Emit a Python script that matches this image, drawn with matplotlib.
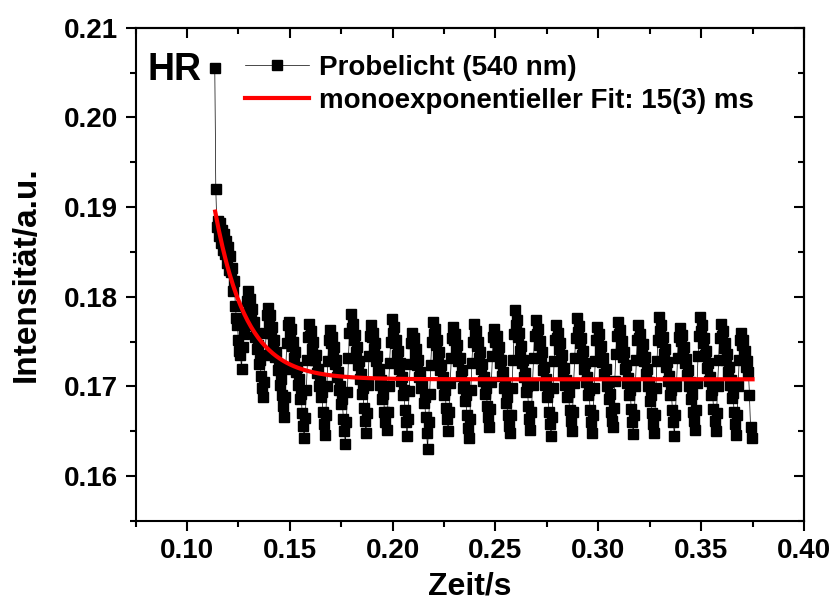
import matplotlib
matplotlib.use("Agg")
import matplotlib.pyplot as plt
from matplotlib.ticker import MultipleLocator, FormatStrFormatter
import numpy as np

plt.rcParams['font.family'] = ['Liberation Sans', 'DejaVu Sans']
plt.rcParams['font.weight'] = 'bold'
plt.rcParams['axes.labelweight'] = 'bold'

# probe light transient, sampled every 0.5 ms from t = 0.1135 s
time_start = 0.1135
time_step = 0.0005
intensity = [
    # initial drop
    0.2055, 0.1920, 0.1878, 0.1885, 0.1868, 0.1882, 0.1860, 0.1875, 0.1852, 0.1870,
    0.1848, 0.1862, 0.1838, 0.1855, 0.1830, 0.1845, 0.1828, 0.1832, 0.1806, 0.1818,
    0.1790, 0.1776, 0.1768, 0.1752, 0.1740, 0.1735, 0.1720, 0.1744, 0.1758, 0.1770,
    0.1782, 0.1795,
    # oscillating plateau
    0.1807, 0.1792, 0.1798, 0.1780, 0.1786, 0.1768, 0.1772, 0.1755, 0.1760, 0.1742,
    0.1746, 0.1725, 0.1730, 0.1712, 0.1698, 0.1688, 0.1705, 0.1735, 0.1760, 0.1780,
    0.1788, 0.1772, 0.1780, 0.1760, 0.1766, 0.1748, 0.1752, 0.1733, 0.1738, 0.1718,
    0.1722, 0.1702, 0.1708, 0.1690, 0.1678, 0.1666, 0.1688, 0.1720, 0.1748, 0.1768,
    0.1772, 0.1758, 0.1764, 0.1745, 0.1750, 0.1732, 0.1738, 0.1716, 0.1722, 0.1702,
    0.1708, 0.1686, 0.1692, 0.1670, 0.1656, 0.1642, 0.1665, 0.1696, 0.1730, 0.1755,
    0.1770, 0.1756, 0.1762, 0.1742, 0.1750, 0.1730, 0.1735, 0.1715, 0.1720, 0.1700,
    0.1706, 0.1688, 0.1694, 0.1672, 0.1658, 0.1646, 0.1668, 0.1700, 0.1728, 0.1752,
    0.1763, 0.1748, 0.1755, 0.1738, 0.1744, 0.1725, 0.1730, 0.1710, 0.1716, 0.1696,
    0.1700, 0.1680, 0.1686, 0.1664, 0.1650, 0.1636, 0.1660, 0.1694, 0.1732, 0.1760,
    0.1781, 0.1765, 0.1770, 0.1752, 0.1757, 0.1738, 0.1744, 0.1724, 0.1728, 0.1708,
    0.1714, 0.1692, 0.1698, 0.1676, 0.1662, 0.1648, 0.1670, 0.1702, 0.1734, 0.1756,
    0.1768, 0.1755, 0.1760, 0.1742, 0.1748, 0.1728, 0.1734, 0.1716, 0.1720, 0.1702,
    0.1707, 0.1686, 0.1692, 0.1672, 0.1660, 0.1652, 0.1672, 0.1700, 0.1726, 0.1750,
    0.1775, 0.1760, 0.1766, 0.1748, 0.1752, 0.1735, 0.1740, 0.1720, 0.1726, 0.1706,
    0.1710, 0.1690, 0.1696, 0.1674, 0.1660, 0.1645, 0.1664, 0.1695, 0.1725, 0.1748,
    0.1760, 0.1748, 0.1754, 0.1736, 0.1742, 0.1724, 0.1730, 0.1710, 0.1716, 0.1698,
    0.1702, 0.1682, 0.1688, 0.1666, 0.1648, 0.1630, 0.1660, 0.1692, 0.1724, 0.1750,
    0.1772, 0.1758, 0.1764, 0.1746, 0.1752, 0.1734, 0.1738, 0.1718, 0.1724, 0.1704,
    0.1710, 0.1690, 0.1696, 0.1676, 0.1664, 0.1650, 0.1672, 0.1704, 0.1732, 0.1754,
    0.1766, 0.1752, 0.1758, 0.1740, 0.1746, 0.1728, 0.1732, 0.1712, 0.1718, 0.1698,
    0.1704, 0.1684, 0.1690, 0.1668, 0.1654, 0.1642, 0.1664, 0.1696, 0.1726, 0.1750,
    0.1770, 0.1757, 0.1762, 0.1745, 0.1750, 0.1732, 0.1738, 0.1720, 0.1725, 0.1706,
    0.1711, 0.1692, 0.1698, 0.1678, 0.1666, 0.1655, 0.1675, 0.1705, 0.1734, 0.1755,
    0.1764, 0.1750, 0.1756, 0.1738, 0.1744, 0.1726, 0.1730, 0.1712, 0.1716, 0.1698,
    0.1703, 0.1682, 0.1688, 0.1668, 0.1656, 0.1648, 0.1668, 0.1698, 0.1730, 0.1758,
    0.1785, 0.1768, 0.1774, 0.1755, 0.1760, 0.1740, 0.1745, 0.1726, 0.1730, 0.1710,
    0.1715, 0.1694, 0.1700, 0.1678, 0.1664, 0.1652, 0.1672, 0.1702, 0.1732, 0.1756,
    0.1774, 0.1758, 0.1764, 0.1746, 0.1751, 0.1732, 0.1738, 0.1718, 0.1722, 0.1702,
    0.1708, 0.1688, 0.1694, 0.1672, 0.1658, 0.1645, 0.1666, 0.1698, 0.1728, 0.1752,
    0.1768, 0.1754, 0.1760, 0.1742, 0.1748, 0.1730, 0.1735, 0.1716, 0.1721, 0.1702,
    0.1707, 0.1688, 0.1694, 0.1674, 0.1662, 0.1650, 0.1672, 0.1704, 0.1732, 0.1754,
    0.1776, 0.1761, 0.1767, 0.1748, 0.1754, 0.1735, 0.1740, 0.1720, 0.1726, 0.1705,
    0.1710, 0.1690, 0.1696, 0.1674, 0.1660, 0.1648, 0.1668, 0.1698, 0.1728, 0.1752,
    0.1766, 0.1752, 0.1758, 0.1740, 0.1745, 0.1727, 0.1732, 0.1714, 0.1720, 0.1700,
    0.1705, 0.1686, 0.1692, 0.1672, 0.1662, 0.1655, 0.1676, 0.1706, 0.1736, 0.1756,
    0.1772, 0.1758, 0.1763, 0.1745, 0.1751, 0.1733, 0.1738, 0.1719, 0.1724, 0.1704,
    0.1709, 0.1690, 0.1696, 0.1675, 0.1660, 0.1647, 0.1668, 0.1700, 0.1730, 0.1752,
    0.1768, 0.1754, 0.1759, 0.1741, 0.1747, 0.1728, 0.1733, 0.1714, 0.1719, 0.1700,
    0.1705, 0.1684, 0.1690, 0.1670, 0.1658, 0.1648, 0.1668, 0.1698, 0.1728, 0.1752,
    0.1778, 0.1762, 0.1768, 0.1750, 0.1755, 0.1736, 0.1742, 0.1722, 0.1727, 0.1706,
    0.1712, 0.1690, 0.1696, 0.1674, 0.1660, 0.1645, 0.1668, 0.1700, 0.1732, 0.1755,
    0.1765, 0.1751, 0.1757, 0.1739, 0.1744, 0.1726, 0.1731, 0.1713, 0.1718, 0.1700,
    0.1705, 0.1686, 0.1692, 0.1672, 0.1662, 0.1652, 0.1674, 0.1704, 0.1734, 0.1756,
    0.1778, 0.1762, 0.1768, 0.1749, 0.1754, 0.1735, 0.1740, 0.1721, 0.1726, 0.1706,
    0.1711, 0.1690, 0.1696, 0.1675, 0.1662, 0.1650, 0.1670, 0.1700, 0.1730, 0.1754,
    0.1770, 0.1756, 0.1762, 0.1743, 0.1749, 0.1730, 0.1736, 0.1716, 0.1722, 0.1702,
    0.1707, 0.1687, 0.1693, 0.1672, 0.1658, 0.1646, 0.1668, 0.1700, 0.1730, 0.1752,
    # tail
    0.1760, 0.1746, 0.1752, 0.1735, 0.1740, 0.1722, 0.1728, 0.1716, 0.1690, 0.1655,
    0.1642,
]

# monoexponential fit parameters (tau = 15 ms)
fit_offset = 0.1708
fit_amp = 0.0187
fit_tau = 0.015
fit_start = 0.1137
fit_end = 0.375

t = time_start + time_step * np.arange(len(intensity))
t_fit = np.linspace(fit_start, fit_end, 300)
y_fit = fit_offset + fit_amp * np.exp(-(t_fit - fit_start) / fit_tau)

fig = plt.figure(figsize=(8.34, 6.03), dpi=100)
ax = fig.add_axes([0.1626, 0.136, 0.8014, 0.818])

ax.plot(t, intensity, color='black', lw=0.5, marker='s', ms=7.5,
        label='Probelicht (540 nm)')
ax.plot(t_fit, y_fit, color='red', lw=3,
        label='monoexponentieller Fit: 15(3) ms')

ax.set_xlim(0.075, 0.40)
ax.set_ylim(0.155, 0.21)
ax.xaxis.set_major_locator(MultipleLocator(0.05))
ax.xaxis.set_minor_locator(MultipleLocator(0.025))
ax.yaxis.set_major_locator(MultipleLocator(0.01))
ax.yaxis.set_minor_locator(MultipleLocator(0.005))
ax.xaxis.set_major_formatter(FormatStrFormatter('%.2f'))
ax.yaxis.set_major_formatter(FormatStrFormatter('%.2f'))
ax.tick_params(which='both', direction='out', width=1.5, labelsize=20, pad=5)
ax.tick_params(which='major', length=7.5)
ax.tick_params(which='minor', length=4.5)
for s in ax.spines.values():
    s.set_linewidth(1.5)

# inward ticks on top and right like the original
top = ax.secondary_xaxis('top')
top.xaxis.set_major_locator(MultipleLocator(0.05))
top.xaxis.set_minor_locator(MultipleLocator(0.025))
top.tick_params(which='both', direction='in', width=1.5, labeltop=False)
top.tick_params(which='major', length=7.5)
top.tick_params(which='minor', length=4.5)
right = ax.secondary_yaxis('right')
right.yaxis.set_major_locator(MultipleLocator(0.01))
right.yaxis.set_minor_locator(MultipleLocator(0.005))
right.tick_params(which='both', direction='in', width=1.5, labelright=False)
right.tick_params(which='major', length=7.5)
right.tick_params(which='minor', length=4.5)
top.spines['top'].set_linewidth(1.5)
right.spines['right'].set_linewidth(1.5)

ax.set_xlabel('Zeit/s', fontsize=23, labelpad=5)
ax.set_ylabel('Intensität/a.u.', fontsize=24, labelpad=16)

ax.text(0.018, 0.914, 'HR', transform=ax.transAxes, fontsize=27,
        fontweight='bold', va='center', ha='left')

ax.legend(loc='upper left', bbox_to_anchor=(0.164, 0.945), frameon=False,
          fontsize=20, handlelength=2.3, handletextpad=0.35, labelspacing=0.25,
          borderpad=0, borderaxespad=0, numpoints=1)

fig.savefig('out.png', dpi=100)
